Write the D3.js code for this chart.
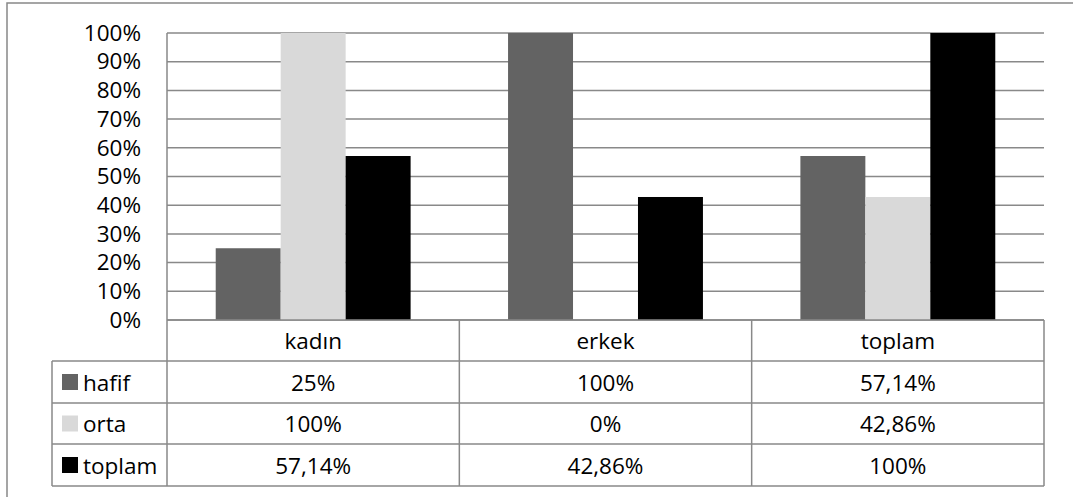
<!DOCTYPE html>
<html><head><meta charset="utf-8">
<script src="https://cdn.jsdelivr.net/npm/d3@7"></script>
<style>body{margin:0;background:#fff}svg{display:block}</style>
</head><body>
<script>
const categories = ["kadın", "erkek", "toplam"];
const seriesNames = ["hafif", "orta", "toplam"];
const hafif = [25, 100, 57.14];
const orta = [100, 0, 42.86];
const toplam = [57.14, 42.86, 100];
const tableLabels = [["25%", "100%", "57,14%"], ["100%", "0%", "42,86%"], ["57,14%", "42,86%", "100%"]];
const yTicks = [0,10,20,30,40,50,60,70,80,90,100];
const colors = ["#636363", "#d9d9d9", "#000000"];

(function(){
const W = 1073, H = 497;
const font = "'Open Sans', sans-serif";
const fs = 22.5;
const svg = d3.select("body").append("svg").attr("width", W).attr("height", H);
svg.append("rect").attr("width", W).attr("height", H).attr("fill", "#fff");
svg.append("rect").attr("x", 7).attr("y", 3).attr("width", W + 20).attr("height", H + 20)
  .attr("fill", "none").attr("stroke", "#888").attr("stroke-width", 1.5);

const pl = 167, pr = 1044, pt = 33, pb = 320;
const x0 = d3.scaleBand().domain(categories).range([pl, pr]).paddingInner(0).paddingOuter(0);
const x1 = d3.scaleBand().domain(seriesNames).range([0, x0.bandwidth()]).paddingInner(0).paddingOuter(0.75);
const y = d3.scaleLinear().domain([0, 100]).range([pb, pt]);

const grid = "#898989";
svg.append("g").selectAll("line").data(yTicks).join("line")
  .attr("x1", pl).attr("x2", pr).attr("y1", d => y(d)).attr("y2", d => y(d))
  .attr("stroke", grid).attr("stroke-width", 1.5);

const yAxis = svg.append("g").attr("transform", `translate(${pl},0)`)
  .call(d3.axisLeft(y).tickValues(yTicks).tickFormat(d => d + "%").tickSize(0).tickPadding(26));
yAxis.select(".domain").remove();
yAxis.selectAll("text").attr("font-family", font).attr("font-size", fs).attr("fill", "#000");

const series = [hafif, orta, toplam];
categories.forEach((c, ci) => {
  seriesNames.forEach((s, si) => {
    const v = series[si][ci];
    svg.append("rect")
      .attr("x", x0(c) + x1(s)).attr("width", x1.bandwidth())
      .attr("y", y(v)).attr("height", pb - y(v))
      .attr("fill", colors[si]);
  });
});

const rowY = [320, 361, 403, 444, 486];
const tl = 52;
const g = svg.append("g").attr("stroke", grid).attr("stroke-width", 1.5);
g.append("line").attr("x1", pl).attr("x2", pl).attr("y1", pt).attr("y2", rowY[4]);
g.append("line").attr("x1", pl).attr("x2", pr).attr("y1", rowY[0]).attr("y2", rowY[0]);
for (let i = 1; i <= 4; i++) g.append("line").attr("x1", tl).attr("x2", pr).attr("y1", rowY[i]).attr("y2", rowY[i]);
g.append("line").attr("x1", tl).attr("x2", tl).attr("y1", rowY[1]).attr("y2", rowY[4]);
categories.forEach((c) => {
  g.append("line").attr("x1", x0(c) + x0.bandwidth()).attr("x2", x0(c) + x0.bandwidth()).attr("y1", rowY[0]).attr("y2", rowY[4]);
});

const txt = svg.append("g").attr("font-family", font).attr("font-size", fs).attr("fill", "#000");
categories.forEach((c, ci) => {
  txt.append("text").attr("x", x0(c) + x0.bandwidth() / 2).attr("y", (rowY[0] + rowY[1]) / 2)
    .attr("text-anchor", "middle").attr("dominant-baseline", "central").text(c);
  tableLabels.forEach((row, ri) => {
    txt.append("text").attr("x", x0(c) + x0.bandwidth() / 2).attr("y", (rowY[ri + 1] + rowY[ri + 2]) / 2)
      .attr("text-anchor", "middle").attr("dominant-baseline", "central").text(row[ci]);
  });
});
seriesNames.forEach((s, si) => {
  const cy = (rowY[si + 1] + rowY[si + 2]) / 2;
  svg.append("rect").attr("x", 62).attr("y", cy - 8).attr("width", 16).attr("height", 16).attr("fill", colors[si]);
  txt.append("text").attr("x", 83).attr("y", cy).attr("dominant-baseline", "central").text(s);
});
})();
</script>
</body></html>
